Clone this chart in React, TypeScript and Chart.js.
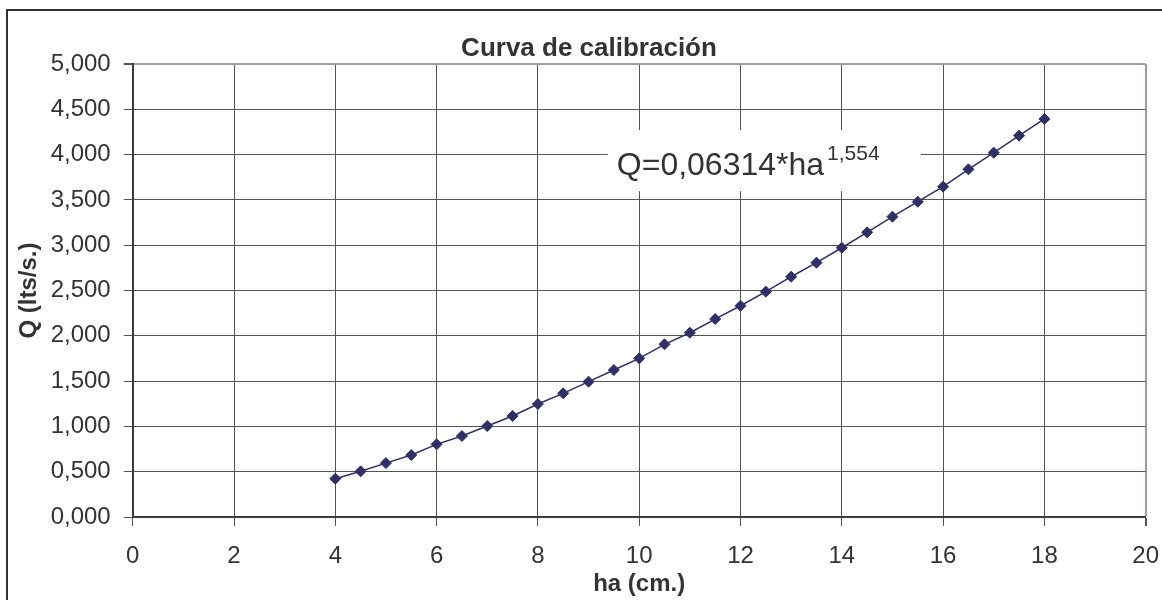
import { useEffect, useRef } from 'react';
import { Chart, registerables } from 'chart.js';

Chart.register(...registerables);

// ---- data ----
const HA = [4, 4.5, 5, 5.5, 6, 6.5, 7, 7.5, 8, 8.5, 9, 9.5, 10, 10.5, 11, 11.5, 12, 12.5, 13, 13.5, 14, 14.5, 15, 15.5, 16, 16.5, 17, 17.5, 18];
const Q = [0.423, 0.504, 0.595, 0.684, 0.802, 0.894, 1.004, 1.115, 1.247, 1.365, 1.494, 1.622, 1.751, 1.906, 2.034, 2.185, 2.332, 2.487, 2.652, 2.807, 2.972, 3.142, 3.315, 3.48, 3.646, 3.837, 4.021, 4.209, 4.393];
const X_TICKS = [0, 2, 4, 6, 8, 10, 12, 14, 16, 18, 20];
const Y_TICKS = [0, 0.5, 1, 1.5, 2, 2.5, 3, 3.5, 4, 4.5, 5];
const Y_TICK_LABELS = ['0,000', '0,500', '1,000', '1,500', '2,000', '2,500', '3,000', '3,500', '4,000', '4,500', '5,000'];
const TITLE = 'Curva de calibración';
const X_TITLE = 'ha (cm.)';
const Y_TITLE = 'Q (lts/s.)';
const EQ_MAIN = 'Q=0,06314*ha';
const EQ_EXP = '1,554';
// annotation box anchor (top-left, in data units)
const EQ_ANCHOR_X = 9.38;
const EQ_ANCHOR_Y = 4.27;

const FONT = '"Liberation Sans", Arial, Helvetica, sans-serif';
const TEXT = '#333333';
const NAVY = '#2E3066';
const GRID = '#555555';
const EDGE = '#a39a9a';

const decor = {
  id: 'decor',
  beforeDraw(chart: any) {
    const { ctx, width, height } = chart;
    ctx.save();
    ctx.fillStyle = '#ffffff';
    ctx.fillRect(0, 0, width, height);
    ctx.restore();
  },
  afterDraw(chart: any) {
    const { ctx } = chart;
    const xs = chart.scales.x;
    const ys = chart.scales.y;
    ctx.save();
    // outer frame
    ctx.strokeStyle = '#333333';
    ctx.lineWidth = 2;
    ctx.strokeRect(7, 10, 2000, 2000);
    // title
    ctx.fillStyle = TEXT;
    ctx.font = `bold 26px ${FONT}`;
    ctx.textAlign = 'center';
    ctx.textBaseline = 'alphabetic';
    ctx.fillText(TITLE, 589, 55.5);
    // equation box
    const bx = xs.getPixelForValue(EQ_ANCHOR_X);
    const by = ys.getPixelForValue(EQ_ANCHOR_Y);
    ctx.fillStyle = '#ffffff';
    ctx.fillRect(bx, by, 313, 61);
    ctx.fillStyle = TEXT;
    ctx.textAlign = 'left';
    ctx.font = `32px ${FONT}`;
    const mainX = bx + 9;
    ctx.fillText(EQ_MAIN, mainX, by + 45);
    const w = ctx.measureText(EQ_MAIN).width;
    ctx.font = `21px ${FONT}`;
    ctx.fillText(EQ_EXP, mainX + w + 3, by + 30);
    ctx.restore();
  },
};

export default function App() {
  const ref = useRef<HTMLCanvasElement>(null);
  useEffect(() => {
    if (!ref.current) return;
    const chart = new Chart(ref.current, {
      type: 'line',
      data: {
        datasets: [
          {
            data: HA.map((h, i) => ({ x: h, y: Q[i] })),
            borderColor: NAVY,
            backgroundColor: NAVY,
            pointBackgroundColor: NAVY,
            pointBorderColor: NAVY,
            borderWidth: 1.5,
            pointStyle: 'rectRot',
            pointRadius: 5.5,
            pointBorderWidth: 1,
            fill: false,
            tension: 0,
          },
        ],
      },
      options: {
        responsive: false,
        animation: false,
        devicePixelRatio: 1,
        layout: { padding: { left: 0, top: 64, right: 16.3, bottom: 0 } },
        plugins: {
          legend: { display: false },
          tooltip: { enabled: false },
          title: { display: false },
        },
        scales: {
          x: {
            type: 'linear',
            min: 0,
            max: 20,
            afterBuildTicks: (s: any) => {
              s.ticks = X_TICKS.map((v) => ({ value: v }));
            },
            afterFit: (s: any) => {
              s.height = 83;
              s.paddingLeft = 0;
              s.paddingRight = 0;
            },
            ticks: {
              color: TEXT,
              font: { family: FONT, size: 24 },
              padding: 15.6,
              maxRotation: 0,
              autoSkip: false,
              callback: (v: any) => String(v),
            },
            grid: {
              color: (c: any) => (c.tick && c.tick.value === 20 ? EDGE : GRID),
              lineWidth: (c: any) => (c.tick && c.tick.value === 20 ? 2 : 1),
              tickColor: GRID,
              tickLength: 9,
              drawTicks: true,
            },
            border: { display: true, color: '#3c3c3c', width: 2 },
            title: {
              display: true,
              text: X_TITLE,
              color: TEXT,
              font: { family: FONT, size: 24, weight: 'bold' },
              padding: { top: 0, bottom: 1.6 },
            },
          },
          y: {
            type: 'linear',
            min: 0,
            max: 5,
            afterBuildTicks: (s: any) => {
              s.ticks = Y_TICKS.map((v) => ({ value: v }));
            },
            afterFit: (s: any) => {
              s.width = 132.7;
              s.paddingTop = 0;
              s.paddingBottom = 0;
            },
            ticks: {
              color: TEXT,
              font: { family: FONT, size: 24 },
              padding: 13,
              autoSkip: false,
              callback: (v: any) => Y_TICK_LABELS[Y_TICKS.indexOf(Number(v))] ?? '',
            },
            grid: {
              color: (c: any) => (c.tick && c.tick.value === 5 ? EDGE : GRID),
              lineWidth: (c: any) => (c.tick && c.tick.value === 5 ? 2 : 1),
              tickColor: GRID,
              tickLength: 9,
              drawTicks: true,
            },
            border: { display: true, color: '#3c3c3c', width: 2 },
            title: {
              display: true,
              text: Y_TITLE,
              color: TEXT,
              font: { family: FONT, size: 24, weight: 'bold' },
              padding: { top: 14.6, bottom: 0 },
            },
          },
        },
      },
      plugins: [decor],
    } as any);
    return () => chart.destroy();
  }, []);
  return (
    <div style={{ position: 'absolute', left: 0, top: 0, width: 1162, height: 600, overflow: 'hidden', background: '#fff' }}>
      <canvas ref={ref} width={1162} height={600} />
    </div>
  );
}
